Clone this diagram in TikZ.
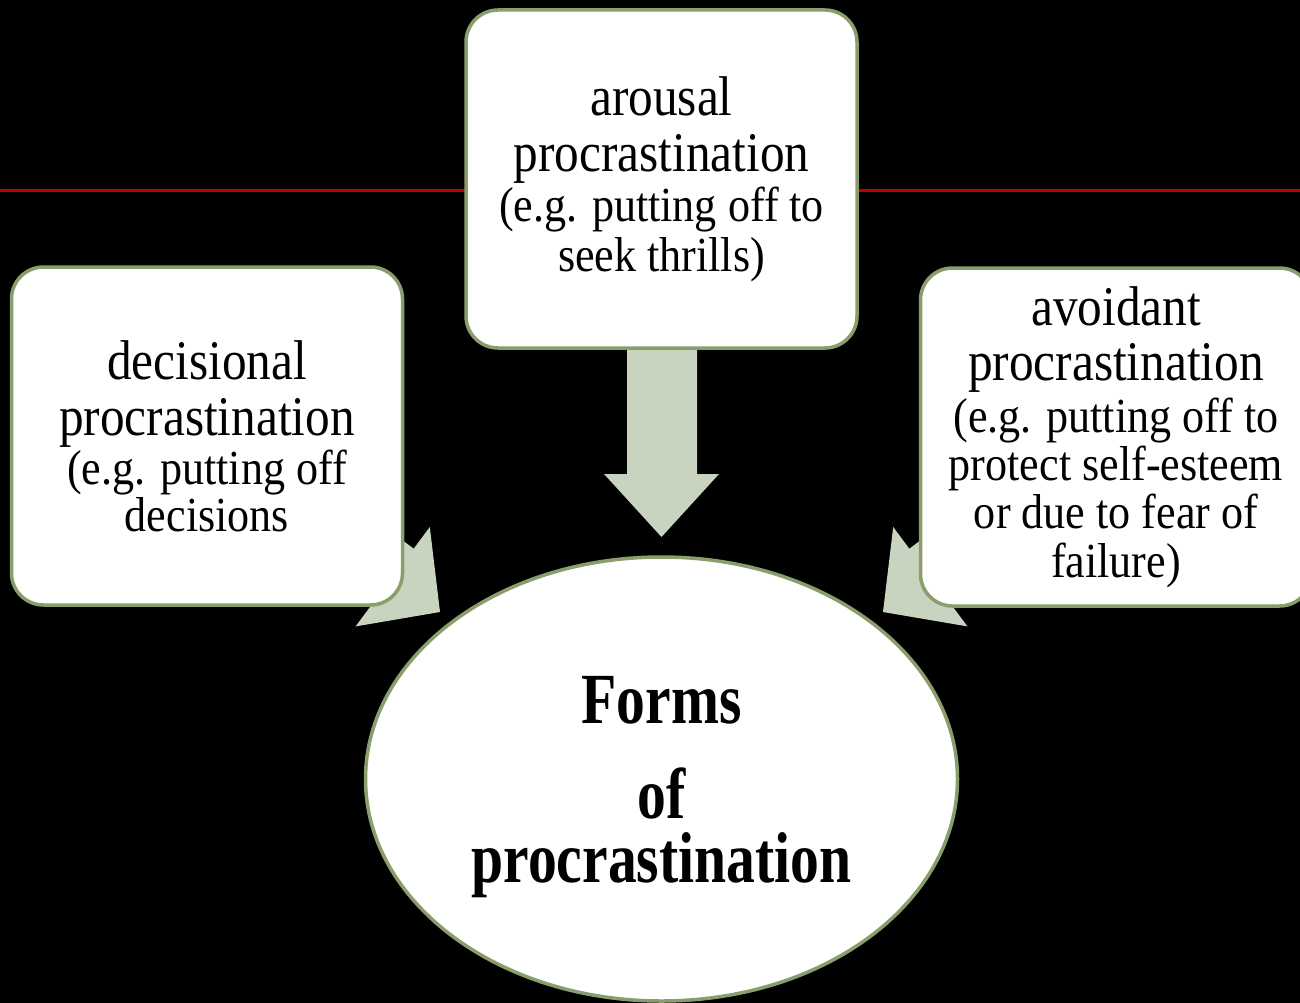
\documentclass[tikz,border=0pt]{standalone}
\usepackage{fontspec}
\setmainfont{Liberation Serif}
\newfontfamily\bigserif[FakeStretch=0.88]{Liberation Serif}
\newfontfamily\smallserif[FakeStretch=0.9]{Liberation Serif}
\newfontfamily\boldserif[FakeStretch=0.8]{Liberation Serif}
\usetikzlibrary{shapes.geometric}
\definecolor{bordergreen}{RGB}{138,158,108}
\definecolor{arrowfill}{RGB}{200,211,192}
\definecolor{redline}{RGB}{192,0,0}
\newcommand\bigtxt{\bigserif\fontsize{56}{56}\selectfont}
\newcommand\smalltxt{\smallserif\fontsize{49}{56}\selectfont}
\tikzset{
  box/.style={draw=bordergreen, line width=3.5pt, fill=white, rounded corners=32pt,
    minimum width=391pt, minimum height=338pt, inner sep=0pt, align=center, font=\bigtxt},
  blockarrow/.style={fill=arrowfill, draw=none},
  centre/.style={draw=bordergreen, line width=3.5pt, fill=white, ellipse,
    minimum width=592pt, minimum height=444pt, inner sep=0pt},
  centretext/.style={align=center, inner sep=0pt,
    font=\boldserif\bfseries\fontsize{72}{64}\selectfont}
}
\begin{document}
\begin{tikzpicture}[x=1pt,y=-1pt]
\clip (0,0) rectangle (1300,1003);
\fill[black] (0,0) rectangle (1300,1003);
% red rule
\coordinate (rl) at (0,190.5);
\coordinate (rr) at (1300,190.5);
\draw[redline, line width=2.5pt] (rl) -- (rr);
% block arrows (behind boxes)
\fill[blockarrow] (627,340) -- (697,340) -- (697,474) -- (719,474) -- (661.5,537) -- (604,474) -- (627,474) -- cycle;
\fill[blockarrow] (309.6,470.8) -- (413.7,548.7) -- (429.8,527.0) -- (440,612) -- (355.6,626.4) -- (371.7,604.7) -- (267.6,526.8) -- cycle;
\fill[blockarrow] (1013.4,470.8) -- (909.3,548.7) -- (893.2,527.0) -- (883,612) -- (967.4,626.4) -- (951.3,604.7) -- (1055.4,526.8) -- cycle;
% boxes
\node[box] (arousal) at (661.5,179) {arousal\\procrastination\\[-6pt]{\smalltxt (e.g. putting off to}\\[-6pt]{\smalltxt seek thrills)}};
\node[box] (decisional) at (207,436) {decisional\\procrastination\\[-7pt]{\smalltxt (e.g. putting off}\\[-9pt]{\smalltxt decisions}};
\node[box] (avoidant) at (1116,437) {avoidant\\[-1pt]procrastination\\[-4pt]{\smalltxt (e.g. putting off to}\\[-8pt]{\smalltxt protect self-esteem}\\[-8pt]{\smalltxt or due to fear of}\\[-7pt]{\smalltxt failure)}};
% centre ellipse
\node[centre] (forms) at (661.5,779) {};
\node[centretext] (formstext) at (661.5,787) {Forms\\[31pt]of\\procrastination};
\end{tikzpicture}
\end{document}
